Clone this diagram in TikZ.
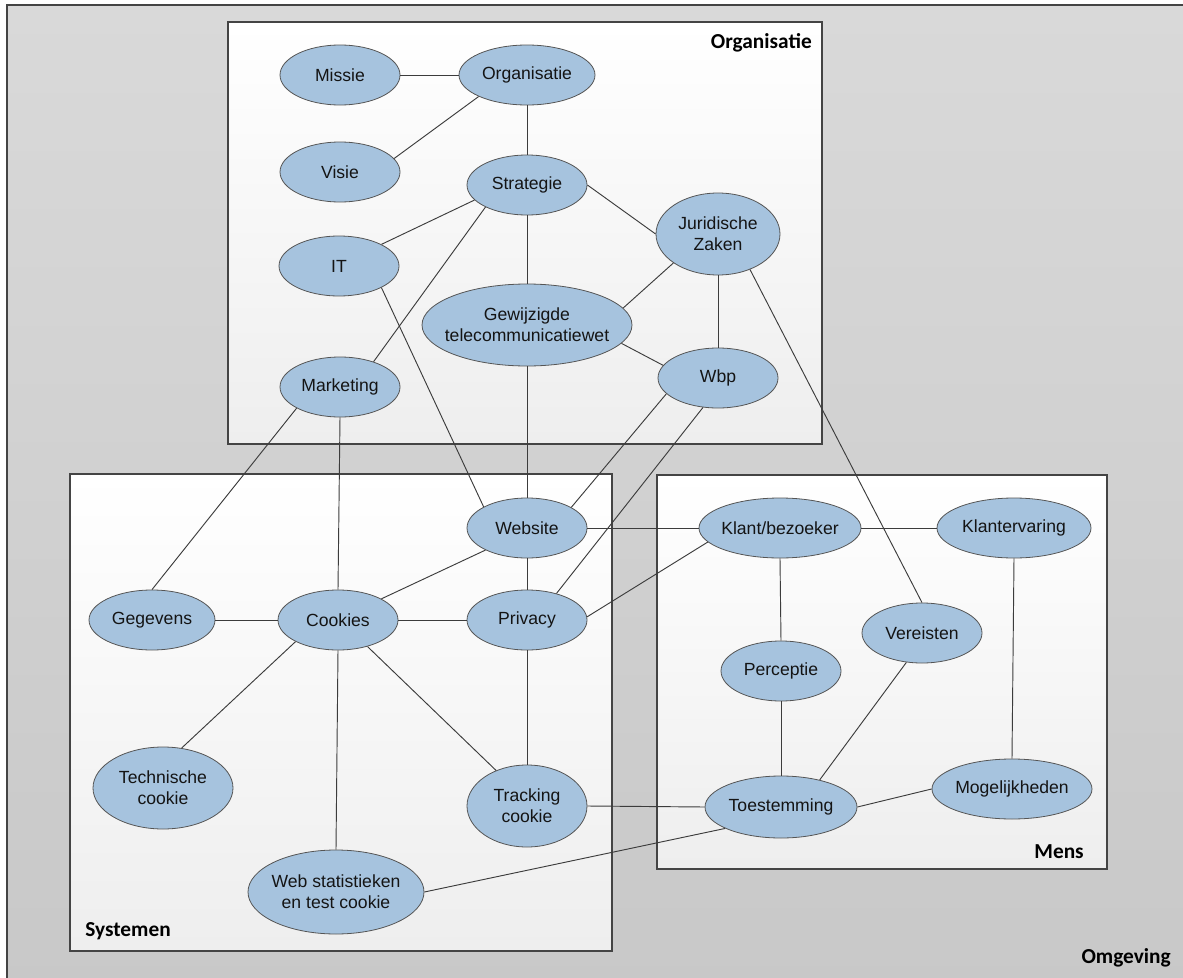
\documentclass[tikz,border=0pt]{standalone}
\usepackage{fontspec}
\setmainfont{Liberation Sans}
\newfontfamily\titlefont{Carlito}
\usetikzlibrary{shapes.geometric}

\definecolor{ellfill}{HTML}{A6C3DE}
\definecolor{elldraw}{HTML}{555555}
\definecolor{linkcol}{HTML}{3C3C3C}
\definecolor{framecol}{HTML}{444444}
\definecolor{bgtop}{HTML}{D9D9D9}
\definecolor{bgbot}{HTML}{C8C8C8}
\definecolor{boxbot}{HTML}{EEEEEE}
\definecolor{txtcol}{HTML}{141414}

\tikzset{
  bub/.style args={#1/#2}{ellipse, draw=elldraw, fill=ellfill, line width=0.6pt,
    inner sep=0pt, minimum width={#1*1.5pt}, minimum height={#2*1.5pt}},
  txt/.style={font=\fontsize{13.2}{15.5}\selectfont, align=center, text=txtcol, inner sep=0pt},
  link/.style={draw=linkcol, line width=0.7pt},
  area/.style={draw=framecol, line width=0.9pt, top color=white, bottom color=boxbot},
  areatitle/.style={font=\titlefont\bfseries\fontsize{16}{19}\selectfont, text=black, inner sep=0pt}
}

\begin{document}
\begin{tikzpicture}[x=0.75pt, y=-0.75pt]
\useasboundingbox (0,0) rectangle (1183,978);

% surroundings (runs past the right and bottom edges)
\shade[top color=bgtop, bottom color=bgbot] (7,5) rectangle (1200,995);
\draw[framecol, line width=0.9pt] (7,995) -- (7,5) -- (1200,5);
\node[areatitle, anchor=base east] (tomg) at (1171,963) {Omgeving};

% the three areas
\path[area] (228,22) rectangle (822,444);
\path[area] (70,474) rectangle (612,951);
\path[area] (657,475) rectangle (1107,869);
\node[areatitle, anchor=base east] (torg) at (812,48) {Organisatie};
\node[areatitle, anchor=base west] (tsys) at (85,936) {Systemen};
\node[areatitle, anchor=base east] (tmens) at (1084,858) {Mens};

% concepts
\node[bub=60/30, label={[txt]center:Missie}] (missie) at (340,75) {};
\node[bub=68/30, label={[txt]center:Organisatie}] (org) at (527,75) {};
\node[bub=60/30, label={[txt]center:Visie}] (visie) at (340,172) {};
\node[bub=60/30, label={[txt]center:Strategie}] (strat) at (527,185) {};
\node[bub=62/41, label={[txt]center:Juridische\\Zaken}] (jur) at (718,234) {};
\node[bub=60/30, label={[txt]center:IT}] (it) at (339,266) {};
\node[bub=105/41, label={[txt]center:Gewijzigde\\telecommunicatiewet}] (gew) at (527,325) {};
\node[bub=60/30, label={[txt]center:Marketing}] (mark) at (340,387) {};
\node[bub=60/30, label={[txt]center:Wbp}] (wbp) at (718,378) {};
\node[bub=60/30, label={[txt]center:Website}] (web) at (527,528) {};
\node[bub=81/30, label={[txt]center:Klant/bezoeker}] (klant) at (780,528) {};
\node[bub=77/30, label={[txt]center:Klantervaring}] (kerv) at (1014,528) {};
\node[bub=63/30, label={[txt]center:Gegevens}] (geg) at (152,620) {};
\node[bub=60/30, label={[txt]center:Cookies}] (cook) at (338,620) {};
\node[bub=60/30, label={[txt]center:Privacy}] (priv) at (527,620) {};
\node[bub=60/30, label={[txt]center:Vereisten}] (ver) at (922,633) {};
\node[bub=60/30, label={[txt]center:Perceptie}] (perc) at (781,671) {};
\node[bub=70/41, label={[txt]center:Technische\\cookie}] (tech) at (163,788) {};
\node[bub=60/41, label={[txt]center:Tracking\\cookie}] (track) at (527,806) {};
\node[bub=76/31, label={[txt]center:Toestemming}] (toest) at (781,807) {};
\node[bub=80/30, label={[txt]center:Mogelijkheden}] (mog) at (1012,789) {};
\node[bub=88/42, label={[txt]center:Web statistieken\\en test cookie}] (wstat) at (336,892) {};

% relations
\begin{scope}[on background layer/.style={}]
\draw[link] (missie.east) -- (org.west);
\draw[link] (org.204) -- (visie.14);
\draw[link] (org.south) -- (strat.north);
\draw[link] (strat.196) -- (it.27);
\draw[link] (strat.208) -- (mark.37);
\draw[link] (strat.south) -- (gew.north);
\draw[link] (strat.east) -- (jur.west);
\draw[link] (jur.213) -- (gew.10);
\draw[link] (jur.south) -- (wbp.north);
\draw[link] (jur.312) -- (ver.north);
\draw[link] (gew.349) -- (wbp.167);
\draw[link] (gew.south) -- (web.north);
\draw[link] (it.333) -- (web.154);
\draw[link] (mark.206) -- (geg.north);
\draw[link] (mark.south) -- (cook.north);
\draw[link] (wbp.197) -- (web.25);
\draw[link] (wbp.243) -- (priv.42);
\draw[link] (web.east) -- (klant.west);
\draw[link] (web.208) -- (cook.26);
\draw[link] (web.south) -- (priv.north);
\draw[link] (klant.east) -- (kerv.west);
\draw[link] (priv.3) -- (klant.191);
\draw[link] (klant.south) -- (perc.north);
\draw[link] (geg.east) -- (cook.west);
\draw[link] (cook.east) -- (priv.west);
\draw[link] (cook.207) -- (tech.65);
\draw[link] (cook.south) -- (wstat.north);
\draw[link] (cook.318) -- (track.131);
\draw[link] (priv.south) -- (track.north);
\draw[link] (track.east) -- (toest.west);
\draw[link] (perc.south) -- (toest.north);
\draw[link] (ver.242) -- (toest.35);
\draw[link] (toest.east) -- (mog.west);
\draw[link] (toest.201) -- (wstat.east);
\draw[link] (kerv.south) -- (mog.north);
\end{scope}
\end{tikzpicture}
\end{document}
